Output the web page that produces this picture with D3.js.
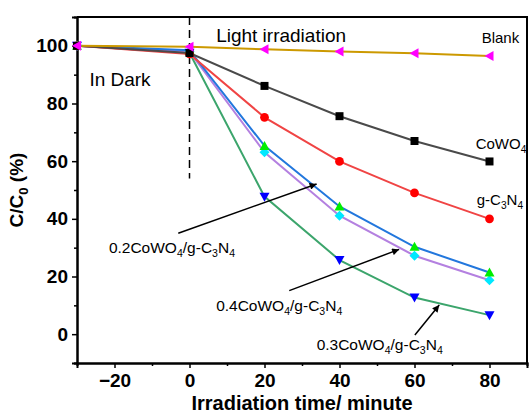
<!DOCTYPE html>
<html>
<head>
<meta charset="utf-8">
<script src="https://cdn.jsdelivr.net/npm/d3@7"></script>
<style>
  body { margin: 0; background: #fff; }
  svg { display: block; font-family: Arial, "Liberation Sans", sans-serif; }
</style>
</head>
<body>
<div id="chart"></div>
<script>
// Data
const times = [-30, 0, 20, 40, 60, 80];
const blank = [100, 99.7, 98.8, 98.0, 97.4, 96.5];
const cowo4 = [100, 97.5, 86.1, 75.6, 67.0, 59.9];
const gc3n4 = [100, 97.2, 75.2, 59.9, 49.0, 40.0];
const c02 = [100, 98.5, 65.3, 44.3, 30.3, 21.4];
const c04 = [100, 98.0, 63.1, 41.1, 27.2, 18.7];
const c03 = [100, 97.6, 47.7, 25.7, 12.7, 6.6];

const xTicks = [-20, 0, 20, 40, 60, 80];
const yTicks = [0, 20, 40, 60, 80, 100];

const width = 529, height = 414;
const margin = { top: 17, right: 2, bottom: 51, left: 77 };

const svg = d3.select('#chart').append('svg')
    .attr('width', width)
    .attr('height', height);

const x = d3.scaleLinear().domain([-30, 90]).range([margin.left, width - margin.right]);
const y = d3.scaleLinear().domain([-10, 110]).range([height - margin.bottom, margin.top]);

// series, drawn bottom to top
const series = [
    { name: '0.3', values: c03, line: '#3ca56c', fill: '#0000ff', shape: 'down' },
    { name: '0.4', values: c04, line: '#b480e0', fill: '#00e8ff', shape: 'diamond' },
    { name: '0.2', values: c02, line: '#2277dd', fill: '#00ee00', shape: 'up' },
    { name: 'g-C3N4', values: gc3n4, line: '#f04444', fill: '#ff0000', shape: 'circle' },
    { name: 'CoWO4', values: cowo4, line: '#4a4a4a', fill: '#000000', shape: 'square' },
    { name: 'Blank', values: blank, line: '#cc9900', fill: '#ff00ff', shape: 'left' }
];

// frame (top + right)
svg.append('path')
    .attr('d', `M${x(-30)},${y(110)}H${x(90)}V${y(-10)}`)
    .attr('fill', 'none').attr('stroke', '#000').attr('stroke-width', 2);

// axes
const xAxis = svg.append('g')
    .attr('transform', `translate(0,${y(-10)})`)
    .call(d3.axisBottom(x).tickValues(xTicks).tickSize(5).tickPadding(6).tickFormat(d3.format('d')));
const xMinor = svg.append('g')
    .attr('transform', `translate(0,${y(-10)})`)
    .call(d3.axisBottom(x).tickValues([-10, 10, 30, 50, 70]).tickSize(3).tickFormat(''));
const yAxis = svg.append('g')
    .attr('transform', `translate(${x(-30)},0)`)
    .call(d3.axisLeft(y).tickValues(yTicks).tickSize(5).tickPadding(4).tickFormat(d3.format('d')));
const yMinor = svg.append('g')
    .attr('transform', `translate(${x(-30)},0)`)
    .call(d3.axisLeft(y).tickValues([-10, 10, 30, 50, 70, 90]).tickSize(3).tickFormat(''));

[xAxis, xMinor, yAxis, yMinor].forEach(a => {
    a.select('.domain').attr('stroke-width', 2);
    a.selectAll('.tick line').attr('stroke-width', 1.5);
    a.selectAll('text')
        .attr('font-size', 19).attr('font-weight', 'bold')
        .attr('font-family', 'Arial, "Liberation Sans", sans-serif').attr('fill', '#000');
});
// drop the empty labels of the minor ticks
xMinor.selectAll('text').remove();
yMinor.selectAll('text').remove();

// axis titles
svg.append('text')
    .attr('x', (x(-30) + x(90)) / 2).attr('y', 410)
    .attr('text-anchor', 'middle')
    .attr('font-size', 20).attr('font-weight', 'bold')
    .text('Irradiation time/ minute');

const yt = svg.append('text')
    .attr('transform', `translate(23,${(y(-10) + y(110)) / 2}) rotate(-90)`)
    .attr('text-anchor', 'middle')
    .attr('font-size', 19).attr('font-weight', 'bold');
yt.append('tspan').text('C/C');
yt.append('tspan').attr('dy', 5).attr('font-size', 13).text('0');
yt.append('tspan').attr('dy', -5).text(' (%)');

// dashed divider
svg.append('line')
    .attr('x1', x(0)).attr('x2', x(0))
    .attr('y1', y(110)).attr('y2', y(54))
    .attr('stroke', '#000').attr('stroke-width', 1.5)
    .attr('stroke-dasharray', '8,5');

// lines
const line = d3.line().x((d, i) => x(times[i])).y(d => y(d));

series.forEach(s => {
    svg.append('path')
        .datum(s.values)
        .attr('d', line)
        .attr('fill', 'none')
        .attr('stroke', s.line)
        .attr('stroke-width', 2);
});

// markers
const symbolPath = shape => {
    const r = 5;
    switch (shape) {
        case 'square': return `M${-4},${-4}h8v8h-8Z`;
        case 'circle': return d3.symbol(d3.symbolCircle, 60)();
        case 'up': return `M0,${-r}L${r},${r * 0.8}L${-r},${r * 0.8}Z`;
        case 'down': return `M0,${r}L${r},${-r * 0.8}L${-r},${-r * 0.8}Z`;
        case 'left': return `M${-r},0L${r * 0.8},${-r}L${r * 0.8},${r}Z`;
        case 'diamond': return `M0,${-r}L${r},0L0,${r}L${-r},0Z`;
    }
};

series.forEach(s => {
    svg.append('g').selectAll('path')
        .data(s.values)
        .join('path')
        .attr('transform', (d, i) => `translate(${x(times[i])},${y(d)})`)
        .attr('d', symbolPath(s.shape))
        .attr('fill', s.fill);
});

// text labels; numbers in parts become subscripts
function label(px, py, parts, size) {
    const t = svg.append('text')
        .attr('x', x(px)).attr('y', y(py))
        .attr('font-size', size).attr('fill', '#000');
    let shift = 0;
    parts.forEach(p => {
        if (typeof p === 'number') {
            t.append('tspan').attr('dy', 4 - shift).attr('font-size', size * 0.68).text(p);
            shift = 4;
        } else {
            const ts = t.append('tspan').text(p);
            if (shift) ts.attr('dy', -shift);
            shift = 0;
        }
    });
    return t;
}

label(7.1, 101.4, ['Light irradiation'], 19);
label(-26.7, 86.1, ['In Dark'], 19);
label(77.9, 100.9, ['Blank'], 15);
label(76.3, 64.1, ['CoWO', 4], 15);
label(76.6, 44.8, ['g-C', 3, 'N', 4], 15);
const composite = ratio => [ratio + 'CoWO', 4, '/g-C', 3, 'N', 4];
label(-21.5, 28.1, composite('0.2'), 15.5);
label(7.1, 8.0, composite('0.4'), 15.5);
label(33.9, -5.5, composite('0.3'), 15.5);

// arrows
svg.append('defs').append('marker')
    .attr('id', 'arrow')
    .attr('viewBox', '0 0 10 10')
    .attr('refX', 10).attr('refY', 5)
    .attr('markerWidth', 9).attr('markerHeight', 7)
    .attr('markerUnits', 'userSpaceOnUse')
    .attr('orient', 'auto')
    .append('path').attr('d', 'M0,0L10,5L0,10Z').attr('fill', '#000');

const arrows = [
    [[-3, 35.0], [33.9, 52.1]],
    [[26.6, 15.1], [55.9, 29.4]],
    [[60.1, -0.3], [66.6, 10.1]]
];
arrows.forEach(([a, b]) => {
    svg.append('line')
        .attr('x1', x(a[0])).attr('y1', y(a[1]))
        .attr('x2', x(b[0])).attr('y2', y(b[1]))
        .attr('stroke', '#000').attr('stroke-width', 1.5)
        .attr('marker-end', 'url(#arrow)');
});
</script>
</body>
</html>
